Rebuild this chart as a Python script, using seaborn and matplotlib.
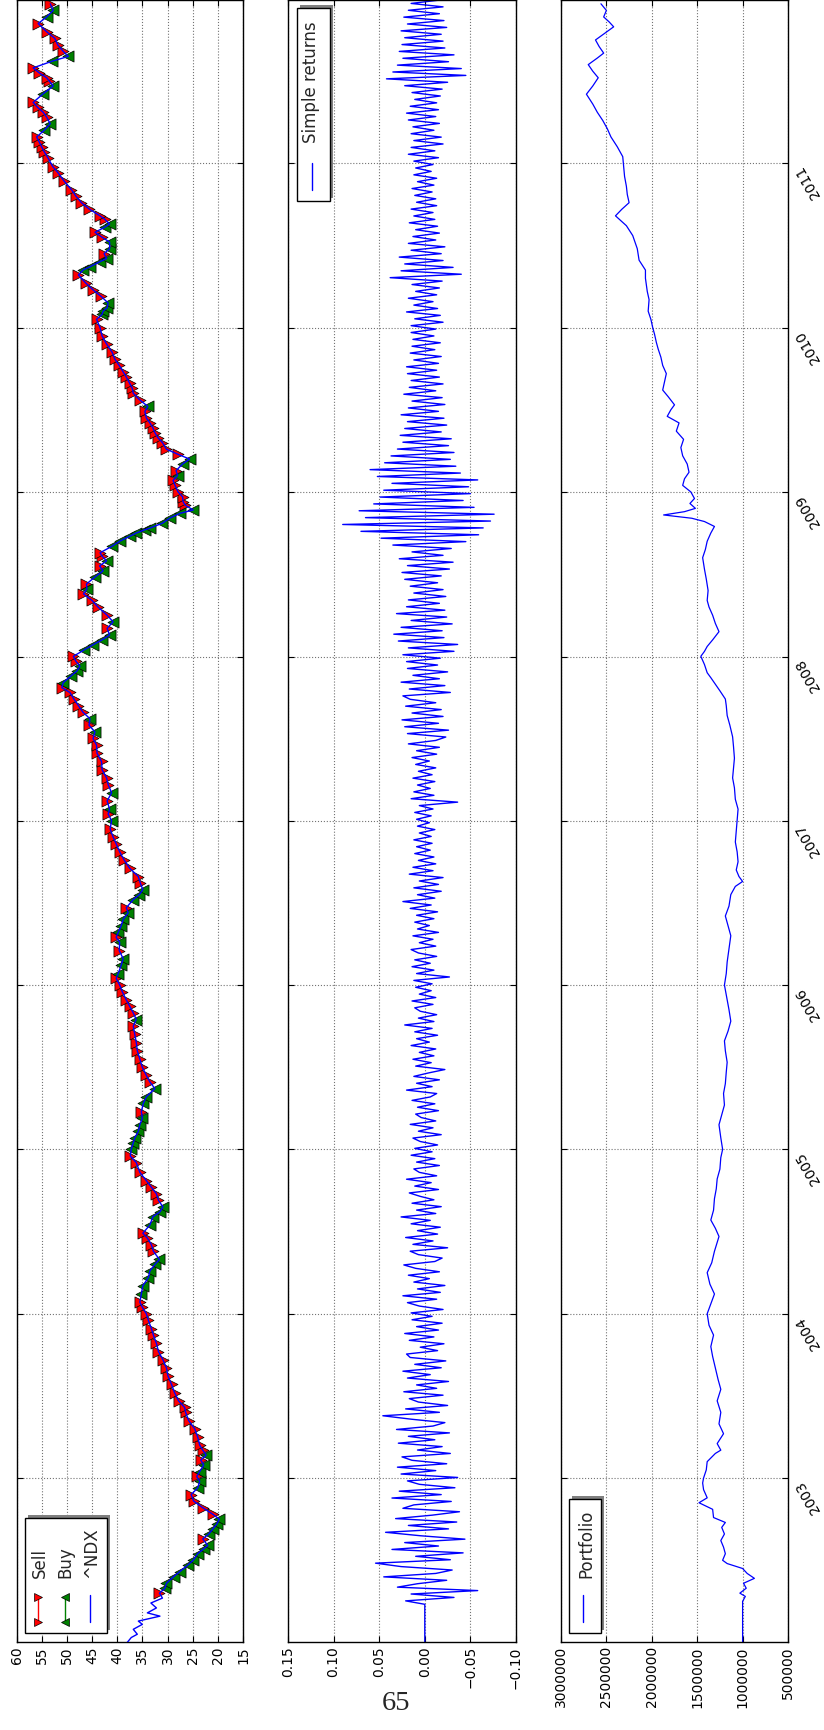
import matplotlib
matplotlib.use("Agg")
import matplotlib.dates as mdates
import matplotlib.pyplot as plt
import numpy as np
import pandas as pd
import seaborn as sns
from matplotlib.lines import Line2D
from matplotlib.patches import Rectangle

# ---- data (rotated landscape figure) -----------------------------------

price_years = [
    2002.00, 2002.03, 2002.05, 2002.08, 2002.11, 2002.13, 2002.16, 2002.18,
    2002.21, 2002.24, 2002.27, 2002.30, 2002.33, 2002.36, 2002.40, 2002.43,
    2002.47, 2002.50, 2002.54, 2002.57, 2002.59, 2002.63, 2002.66, 2002.69,
    2002.72, 2002.75, 2002.78, 2002.82, 2002.86, 2002.90, 2002.94, 2002.98,
    2003.01, 2003.04, 2003.08, 2003.11, 2003.14, 2003.17, 2003.20, 2003.25,
    2003.30, 2003.35, 2003.40, 2003.43, 2003.47, 2003.52, 2003.57, 2003.62,
    2003.67, 2003.72, 2003.77, 2003.82, 2003.87, 2003.91, 2003.96,
    2004.00, 2004.04, 2004.07, 2004.12, 2004.17, 2004.22, 2004.26, 2004.30,
    2004.33, 2004.38, 2004.42, 2004.46, 2004.49, 2004.54, 2004.59, 2004.62,
    2004.65, 2004.69, 2004.73, 2004.77, 2004.81, 2004.86, 2004.92, 2004.96,
    2005.00, 2005.04, 2005.07, 2005.11, 2005.15, 2005.19, 2005.23, 2005.28,
    2005.32, 2005.37, 2005.41, 2005.45, 2005.50, 2005.55, 2005.60, 2005.65,
    2005.70, 2005.75, 2005.79, 2005.83, 2005.87, 2005.91, 2005.96,
    2006.00, 2006.04, 2006.07, 2006.12, 2006.16, 2006.21, 2006.26, 2006.29,
    2006.32, 2006.36, 2006.40, 2006.44, 2006.47, 2006.52, 2006.55, 2006.58,
    2006.62, 2006.66, 2006.71, 2006.76, 2006.81, 2006.86, 2006.90, 2006.95,
    2007.00, 2007.04, 2007.07, 2007.12, 2007.17, 2007.22, 2007.26, 2007.31,
    2007.36, 2007.41, 2007.46, 2007.50, 2007.54, 2007.58, 2007.62, 2007.66,
    2007.70, 2007.74, 2007.78, 2007.81, 2007.84, 2007.88, 2007.91, 2007.94,
    2007.97,
    2008.00, 2008.04, 2008.07, 2008.10, 2008.13, 2008.17, 2008.21, 2008.25,
    2008.30, 2008.34, 2008.38, 2008.41, 2008.44, 2008.48, 2008.52, 2008.55,
    2008.58, 2008.61, 2008.63, 2008.67, 2008.70, 2008.73, 2008.75, 2008.77,
    2008.78, 2008.81, 2008.84, 2008.87, 2008.89, 2008.92, 2008.94, 2008.97,
    2009.00, 2009.04, 2009.07, 2009.10, 2009.13, 2009.17, 2009.20, 2009.23,
    2009.26, 2009.30, 2009.33, 2009.36, 2009.39, 2009.42, 2009.45, 2009.49,
    2009.52, 2009.56, 2009.60, 2009.63, 2009.66, 2009.70, 2009.73, 2009.77,
    2009.81, 2009.85, 2009.90, 2009.95,
    2010.00, 2010.05, 2010.08, 2010.10, 2010.12, 2010.15, 2010.19, 2010.23,
    2010.27, 2010.32, 2010.35, 2010.37, 2010.40, 2010.42, 2010.45, 2010.48,
    2010.52, 2010.55, 2010.58, 2010.61, 2010.63, 2010.66, 2010.68, 2010.72,
    2010.76, 2010.80, 2010.84, 2010.89, 2010.94, 2010.98,
    2011.03, 2011.07, 2011.10, 2011.13, 2011.16, 2011.20, 2011.24, 2011.28,
    2011.31, 2011.34, 2011.37, 2011.42, 2011.47, 2011.50, 2011.52, 2011.55,
    2011.58, 2011.62, 2011.65, 2011.68, 2011.72, 2011.76, 2011.80, 2011.85,
    2011.89, 2011.93, 2011.97,
]
price_values = [
    38.0, 37.2, 36.0, 36.8, 35.0, 35.8, 31.5, 34.0,
    32.2, 33.3, 31.0, 31.6, 30.5, 30.2, 28.8, 27.6,
    26.0, 24.9, 24.0, 22.8, 22.0, 23.0, 21.8, 21.0,
    20.2, 19.7, 21.0, 23.0, 24.8, 25.3, 24.0, 23.6,
    24.2, 23.6, 22.8, 23.4, 22.3, 23.0, 23.6, 24.0,
    24.6, 25.8, 26.4, 26.6, 27.8, 28.6, 29.2, 29.9,
    30.2, 30.9, 31.8, 32.2, 32.8, 33.2, 33.8,
    34.2, 35.0, 35.5, 35.2, 34.9, 33.8, 33.5, 32.5,
    31.6, 32.8, 33.2, 34.0, 34.9, 33.5, 32.9, 31.5,
    30.9, 31.8, 32.2, 33.2, 34.2, 35.5, 36.2, 37.4,
    37.2, 36.8, 36.5, 35.8, 35.5, 35.0, 35.2, 34.8,
    34.2, 32.5, 33.5, 34.2, 35.0, 35.5, 36.0, 36.2,
    36.5, 36.8, 36.2, 36.8, 37.5, 38.2, 39.0,
    39.5, 40.2, 39.8, 39.2, 38.8, 39.6, 39.5, 40.2,
    39.8, 39.2, 38.8, 37.8, 38.2, 36.8, 35.6, 34.9,
    35.4, 35.8, 37.5, 38.6, 39.5, 40.2, 40.8, 41.4,
    41.1, 41.8, 41.5, 42.0, 41.1, 41.8, 42.1, 43.0,
    43.1, 44.0, 44.1, 44.8, 44.4, 45.6, 45.4, 46.8,
    47.7, 48.6, 49.4, 51.0, 50.7, 49.2, 48.0, 47.4,
    48.2,
    48.7, 46.5, 44.8, 43.0, 41.5, 42.0, 40.8, 42.0,
    43.8, 45.0, 46.7, 46.0, 46.1, 44.5, 42.8, 43.5,
    42.1, 43.0, 43.4, 41.0, 39.5, 37.5, 36.2, 34.5,
    33.5, 31.0, 29.6, 27.5, 24.9, 26.5, 26.9, 27.0,
    27.9, 28.5, 28.9, 28.0, 28.3, 27.0, 25.6, 28.0,
    30.2, 31.0, 31.9, 32.5, 32.9, 33.5, 34.2, 34.5,
    33.9, 35.5, 36.8, 37.0, 37.5, 38.2, 38.8, 39.6,
    40.5, 41.0, 42.1, 43.0,
    43.4, 44.1, 43.0, 42.8, 42.0, 41.8, 43.2, 44.8,
    46.2, 47.7, 46.8, 45.4, 43.5, 42.1, 42.6, 41.5,
    41.5, 43.0, 44.4, 42.5, 41.5, 42.5, 43.4, 45.5,
    47.1, 48.2, 49.1, 50.5, 51.7, 52.8,
    53.7, 54.5, 55.0, 55.5, 56.0, 54.5, 53.3, 54.0,
    54.7, 55.8, 56.7, 54.8, 52.7, 53.5, 54.0, 55.5,
    56.7, 53.0, 49.7, 50.7, 51.8, 52.4, 54.0, 55.7,
    54.0, 52.7, 53.3,
]
trading_start = 2002.28

# simple returns in percent, 48 readings per year from Jan 2002 to Dec 2011
returns_pct = [
    0, 0, 0, 0, 0, 0, 0, 0, 0, 0, 0, 0,
    2.1, -3.2, 1.5, -5.8, 3.0, 0.8, -2.4, 4.5, -1.2, -3.0, 2.6, 5.4,
    -2.8, 1.0, -4.2, 3.6, -1.5, 2.2, -4.4, 0.5, 4.3, -2.6, 1.8, -3.5,
    3.2, -0.8, -3.8, 2.4, 1.2, -2.9, 3.6, -1.8, 2.8, -3.3, 0.6, 1.9,
    -3.6, 2.6, -1.2, 3.0, -2.4, 1.4, 2.5, -2.8, 0.8, -1.9, 2.9, -1.1,
    1.8, -2.7, 3.1, -0.9, -2.2, 1.5, 4.6, -1.6, 2.1, -2.5, 0.7, 1.7,
    -2.0, 2.3, -1.3, 0.9, -2.6, 1.9, -0.6, 2.4, -1.8, 1.1, -2.3, 1.6,
    2.0, -1.4, 0.5, -2.1, 1.7, -1.0, 2.2, -1.5, 0.9, -1.9, 1.4, -0.8,
    1.5, -2.0, 0.6, 1.9, -1.3, 2.4, -1.7, 0.8, -2.2, 1.2, -0.5, 1.8,
    -1.6, 1.0, 2.3, -1.1, -1.9, 0.7, 1.6, -2.5, 1.3, -0.9, 2.1, -1.4,
    0.8, -1.7, 1.5, -0.6, 2.6, -1.2, 0.9, -1.8, 1.4, -1.0, 0.5, 1.7,
    -1.5, 1.1, -0.7, 2.0, -1.3, 0.6, 1.2, -1.6, 0.9, -1.1, 1.5, -0.8,
    1.1, -1.4, 0.5, 1.3, -1.8, 0.7, -0.9, 1.6, -1.2, 0.4, 1.0, -1.5,
    0.8, -1.1, 1.4, -0.6, -1.3, 2.0, -0.8, 0.9, -1.6, 1.2, -0.4, -2.2,
    1.0, -0.7, 1.3, -1.0, 0.6, -1.2, 1.5, -0.5, 0.9, -1.4, 1.1, -0.8,
    2.2, -1.0, 0.7, -1.3, 0.5, 1.1, -0.9, 1.4, -1.2, 0.6, -0.7, 1.0,
    -0.8, 1.2, -2.7, 0.9, -1.0, 1.4, -0.6, 1.1, -1.3, 0.7, 1.5, -1.2,
    0.6, -0.9, 1.3, -1.5, 0.8, -0.5, 1.1, -1.0, 0.9, -1.4, 1.6, -0.7,
    2.4, -1.1, 0.8, -1.8, 1.2, -1.5, 0.6, -2.0, 1.7, -0.9, 1.3, -1.2,
    0.7, -1.0, 1.1, -0.6, 0.9, -0.8, 1.2, -0.7, 0.6, -1.1, 0.8, -0.5,
    0.9, -0.7, 1.1, -0.9, 0.6, -3.6, 1.5, -1.0, 1.2, -0.6, 0.8, -1.1,
    1.3, -0.8, 0.7, -1.2, 1.0, -0.5, 1.4, -1.3, 0.9, -1.6, 1.8, -1.2,
    -2.3, 1.9, -2.6, 2.2, -1.5, 2.5, -2.0, 1.4, -1.8, 2.1, -1.2, 1.6,
    2.4, -2.8, 1.7, -2.2, 2.6, -1.6, 1.3, -2.5, 1.9, -1.4, 2.0, -1.7,
    2.4, -3.2, 1.8, -3.6, 2.9, -2.1, 3.4, -1.9, 2.6, -3.0, 1.5, -2.4,
    3.1, -2.2, 2.0, -1.6, 1.8, -2.3, 1.2, -2.0, 1.6, -1.4, 2.2, -1.8,
    2.5, -2.7, 1.9, -3.1, 2.8, -2.0, 1.4, -2.9, 3.5, -4.5, 4.8, -5.9,
    7.0, -6.4, 9.0, -7.2, 6.5, -7.6, 7.2, -5.4, 5.6, -4.2, 4.9, -5.0,
    4.5, -4.8, 3.6, -5.8, 5.2, -3.9, 6.0, -3.4, 4.4, -2.8, 3.7, -3.2,
    3.0, -2.6, 2.4, -2.9, 2.7, -1.8, 2.2, -2.4, 1.9, -2.1, 2.6, -1.5,
    1.8, -2.2, 1.4, -1.9, 2.3, -1.2, 1.7, -2.0, 1.5, -1.6, 1.9, -1.3,
    2.0, -1.5, 1.2, -1.8, 1.6, -1.1, 1.4, -1.7, 1.3, -1.0, 1.5, -1.2,
    1.5, -2.0, 1.1, -1.7, 2.0, -1.4, 1.2, -0.9, 1.8, -1.3, 1.0, -1.6,
    1.4, -1.9, 3.8, -4.0, 2.6, -3.1, 2.2, -2.0, 2.8, -1.8, 1.5, -2.2,
    1.8, -1.2, 1.3, -1.6, 1.0, -1.4, 1.7, -1.1, 1.2, -0.9, 1.5, -1.3,
    0.9, -1.2, 1.1, -0.8, 1.4, -1.0, 0.8, -1.3, 1.2, -0.7, 1.0, -0.9,
    1.2, -1.5, 1.8, -1.1, 1.5, -2.0, 1.2, -1.8, 1.5, -1.0, 1.3, -1.6,
    1.8, -1.2, 2.0, -1.5, 1.6, -1.3, 1.1, -1.7, 1.4, -1.9, 2.2, -2.5,
    4.2, -4.5, 3.5, -4.0, 3.0, -2.6, 2.4, -3.2, 2.8, -2.2, 2.5, -2.0,
    2.2, -1.8, 2.6, -2.4, 1.9, -2.1, 2.3, -1.6, 1.8, -2.0, 1.5, -1.7,
]

portfolio_years = [
    2002.00, 2002.25, 2002.28, 2002.30, 2002.33, 2002.36, 2002.39, 2002.42,
    2002.45, 2002.48, 2002.50, 2002.54, 2002.58, 2002.62, 2002.66, 2002.70,
    2002.73, 2002.76, 2002.81, 2002.85, 2002.88, 2002.93, 2002.97,
    2003.00, 2003.05, 2003.10, 2003.15, 2003.17, 2003.21, 2003.27, 2003.33,
    2003.40, 2003.47, 2003.54, 2003.60, 2003.67, 2003.74, 2003.80, 2003.87,
    2003.93,
    2004.00, 2004.06, 2004.12, 2004.18, 2004.25, 2004.31, 2004.38, 2004.47,
    2004.52, 2004.57, 2004.63, 2004.70, 2004.76, 2004.82, 2004.88, 2004.95,
    2005.00, 2005.07, 2005.15, 2005.21, 2005.27, 2005.34, 2005.40, 2005.47,
    2005.53, 2005.60, 2005.66, 2005.72, 2005.78, 2005.85, 2005.91,
    2006.00, 2006.07, 2006.14, 2006.22, 2006.30, 2006.36, 2006.42, 2006.48,
    2006.55, 2006.60, 2006.63, 2006.66, 2006.70, 2006.75, 2006.81, 2006.87,
    2007.00, 2007.07, 2007.13, 2007.20, 2007.26, 2007.32, 2007.38, 2007.45,
    2007.51, 2007.58, 2007.64, 2007.70, 2007.74, 2007.79, 2007.83, 2007.87,
    2007.90, 2007.95,
    2008.00, 2008.03, 2008.06, 2008.10, 2008.15, 2008.20, 2008.25, 2008.30,
    2008.34, 2008.40, 2008.47, 2008.53, 2008.60, 2008.65, 2008.70, 2008.75,
    2008.79, 2008.82, 2008.84, 2008.86, 2008.88, 2008.90, 2008.93, 2008.96,
    2009.00, 2009.04, 2009.08, 2009.12, 2009.17, 2009.22, 2009.27, 2009.32,
    2009.37, 2009.42, 2009.46, 2009.50, 2009.53, 2009.58, 2009.62, 2009.67,
    2009.72, 2009.77, 2009.82, 2009.87, 2009.91, 2009.96,
    2010.00, 2010.05, 2010.10, 2010.17, 2010.22, 2010.30, 2010.35, 2010.41,
    2010.48, 2010.56, 2010.62, 2010.68, 2010.72, 2010.76, 2010.81, 2010.86,
    2010.92, 2010.98,
    2011.04, 2011.10, 2011.16, 2011.21, 2011.26, 2011.31, 2011.36, 2011.42,
    2011.47, 2011.52, 2011.56, 2011.60, 2011.64, 2011.67, 2011.71, 2011.75,
    2011.79, 2011.83, 2011.86, 2011.89, 2011.93, 2011.97,
]
portfolio_values = [
    1000000, 1000000, 970000, 1030000, 960000, 990000, 870000, 950000,
    1000000, 1170000, 1220000, 1190000, 1210000, 1240000, 1200000, 1230000,
    1190000, 1320000, 1330000, 1480000, 1390000, 1430000, 1440000,
    1430000, 1400000, 1390000, 1300000, 1240000, 1280000, 1210000, 1260000,
    1240000, 1280000, 1240000, 1270000, 1300000, 1330000, 1350000, 1320000,
    1370000,
    1390000, 1350000, 1310000, 1360000, 1390000, 1340000, 1310000, 1260000,
    1300000, 1350000, 1320000, 1310000, 1290000, 1280000, 1250000, 1240000,
    1220000, 1240000, 1260000, 1230000, 1200000, 1210000, 1190000, 1180000,
    1170000, 1190000, 1200000, 1160000, 1130000, 1150000, 1170000,
    1200000, 1180000, 1170000, 1150000, 1130000, 1160000, 1190000, 1150000,
    1130000, 1080000, 1000000, 1040000, 1070000, 1050000, 1060000, 1080000,
    1060000, 1050000, 1080000, 1090000, 1110000, 1100000, 1090000, 1100000,
    1110000, 1140000, 1170000, 1180000, 1190000, 1250000, 1300000, 1350000,
    1390000, 1420000,
    1460000, 1420000, 1390000, 1330000, 1260000, 1300000, 1330000, 1370000,
    1390000, 1380000, 1400000, 1420000, 1440000, 1410000, 1390000, 1350000,
    1310000, 1420000, 1560000, 1870000, 1640000, 1520000, 1580000, 1530000,
    1570000, 1660000, 1640000, 1590000, 1610000, 1660000, 1680000, 1650000,
    1730000, 1700000, 1830000, 1790000, 1750000, 1820000, 1880000, 1860000,
    1840000, 1880000, 1900000, 1930000, 1950000, 1970000,
    1990000, 2010000, 2040000, 2030000, 2050000, 2070000, 2070000, 2140000,
    2160000, 2210000, 2280000, 2400000, 2330000, 2250000, 2270000, 2280000,
    2300000, 2310000,
    2320000, 2380000, 2450000, 2490000, 2540000, 2600000, 2650000, 2720000,
    2650000, 2590000, 2650000, 2700000, 2600000, 2530000, 2580000, 2620000,
    2520000, 2420000, 2470000, 2530000, 2500000, 2560000,
]

price_ticks = [15, 20, 25, 30, 35, 40, 45, 50, 55, 60]
return_ticks = [-0.10, -0.05, 0.0, 0.05, 0.10, 0.15]
return_labels = ["\u22120.10", "\u22120.05", "0.00", "0.05", "0.10", "0.15"]
portfolio_ticks = [500000, 1000000, 1500000, 2000000, 2500000, 3000000]

# ---- helpers -------------------------------------------------------------

W, H = 824, 1730


def to_dates(years):
    yrs = np.asarray(years, dtype=float)
    return pd.Timestamp("2002-01-01") + pd.to_timedelta((yrs - 2002.0) * 365.25, unit="D")


sns.set_style("ticks")
plt.rcParams["font.family"] = ["DejaVu Sans"]
plt.rcParams.update({
    "axes.edgecolor": "black",
    "axes.linewidth": 1.0,
    "xtick.color": "black",
    "ytick.color": "black",
    "xtick.direction": "in",
    "ytick.direction": "in",
    "xtick.major.size": 4,
    "ytick.major.size": 4,
    "xtick.major.width": 0.8,
    "ytick.major.width": 0.8,
    "xtick.major.pad": 3,
    "ytick.major.pad": 3.5,
    "xtick.labelsize": 10,
    "ytick.labelsize": 10,
})

fig = plt.figure(figsize=(W / 100, H / 100), dpi=100)


def px_axes(left, right, top, bottom, **kw):
    return fig.add_axes([left / W, 1 - bottom / H, (right - left) / W, (bottom - top) / H], **kw)


ax_p = px_axes(16.5, 243, 0, 1642)
ax_r = px_axes(288, 516, 0, 1642, sharey=ax_p)
ax_v = px_axes(561, 788, 0, 1642, sharey=ax_p)

# ---- price with buy / sell signals ----------------------------------------
price_df = pd.DataFrame({"date": to_dates(price_years), "price": price_values,
                         "year": price_years})
price_df["move"] = price_df["price"].diff().fillna(0)
traded = price_df[price_df["year"] >= trading_start]
sells = traded[traded["move"] > 0]
buys = traded[traded["move"] <= 0]

sns.scatterplot(data=sells, x="price", y="date", marker=">", color="red",
                edgecolor="black", linewidth=0.5, s=64, ax=ax_p, zorder=2, legend=False)
sns.scatterplot(data=buys, x="price", y="date", marker="<", color="green",
                edgecolor="black", linewidth=0.5, s=64, ax=ax_p, zorder=2, legend=False)
sns.lineplot(data=price_df, x="price", y="date", orient="y", sort=False, estimator=None,
             color="blue", linewidth=1.0, ax=ax_p, zorder=3)

# ---- simple returns ----------------------------------------------------------
ret_df = pd.DataFrame({
    "date": pd.date_range("2002-01-02", "2011-12-30", periods=len(returns_pct)),
    "ret": np.asarray(returns_pct) / 100.0,
})
sns.lineplot(data=ret_df, x="ret", y="date", orient="y", sort=False, estimator=None,
             color="blue", linewidth=1.0, ax=ax_r)

# ---- portfolio value -------------------------------------------------------------
port_df = pd.DataFrame({"date": to_dates(portfolio_years), "value": portfolio_values})
sns.lineplot(data=port_df, x="value", y="date", orient="y", sort=False, estimator=None,
             color="blue", linewidth=0.9, ax=ax_v)

# ---- axes styling ----------------------------------------------------------------
ax_p.set_xticks(price_ticks)
ax_p.set_xlim(60, 15)
ax_r.set_xticks(return_ticks, labels=return_labels)
ax_r.set_xlim(0.15, -0.10)
ax_v.set_xticks(portfolio_ticks, labels=[str(v) for v in portfolio_ticks])
ax_v.set_xlim(3000000, 500000)

for ax in (ax_p, ax_r, ax_v):
    ax.set_ylim(pd.Timestamp("2002-01-02"), pd.Timestamp("2011-12-30"))
    ax.yaxis.set_major_locator(mdates.YearLocator())
    ax.yaxis.set_major_formatter(mdates.DateFormatter("%Y"))
    ax.yaxis.set_minor_locator(plt.NullLocator())
    ax.grid(True, linestyle=":", linewidth=0.8, color="0.45")
    ax.tick_params(which="both", direction="in", top=True, bottom=True,
                   left=True, right=True, labelleft=False, labelright=False)
    ax.tick_params(axis="x", labelrotation=90)
    ax.set_xlabel("")
    ax.set_ylabel("")
    for spine in ax.spines.values():
        spine.set_color("black")
        spine.set_linewidth(1.0)

ax_v.tick_params(axis="y", labelright=True, labelrotation=120)
plt.setp(ax_v.get_yticklabels(), ha="left", va="top")

# ---- rotated legends drawn by hand (the page is turned on its side) ---------


def fx(x):
    return x / W


def fy(y):
    return 1 - y / H


def legend_box(x0, y0, x1, y1):
    shadow = Rectangle((fx(x0 + 3), fy(y1 - 3)), (x1 - x0) / W, (y1 - y0) / H,
                       transform=fig.transFigure, facecolor="0.5", edgecolor="none", zorder=20)
    box = Rectangle((fx(x0), fy(y1)), (x1 - x0) / W, (y1 - y0) / H,
                    transform=fig.transFigure, facecolor="white", edgecolor="black",
                    linewidth=1.0, zorder=21)
    fig.add_artist(shadow)
    fig.add_artist(box)


def legend_entry(label, base_x, text_y, handle_x, y0, y1, color, marker=None):
    line = Line2D([fx(handle_x), fx(handle_x)], [fy(y0), fy(y1)], transform=fig.transFigure,
                  color=color, linewidth=1.0, marker=marker, markersize=6,
                  markerfacecolor=color, markeredgecolor="black", markeredgewidth=0.5, zorder=22)
    fig.add_artist(line)
    fig.text(fx(base_x), fy(text_y), label, rotation=90, rotation_mode="anchor",
             ha="left", va="baseline", fontsize=12, zorder=22)


legend_box(25, 1518, 107, 1633)
legend_entry("Sell", 45, 1578, 38, 1597, 1622, "red", ">")
legend_entry("Buy", 70.5, 1578, 65, 1597, 1622, "green", "<")
legend_entry("^NDX", 96, 1578, 90, 1595, 1622, "blue")

legend_box(297, 8, 330, 201)
legend_entry("Simple returns", 316, 143, 312, 163, 190, "blue")

legend_box(569, 1499, 601, 1633)
legend_entry("Portfolio", 591, 1578, 583, 1595, 1622, "blue")

# page number of the thesis page (upright, unlike the turned figure)
fig.text(fx(396), fy(1703), "65", family="Liberation Serif", fontsize=20.5,
         rotation=0, ha="center", va="center")

fig.savefig("out.png", dpi=100)
plt.close(fig)
